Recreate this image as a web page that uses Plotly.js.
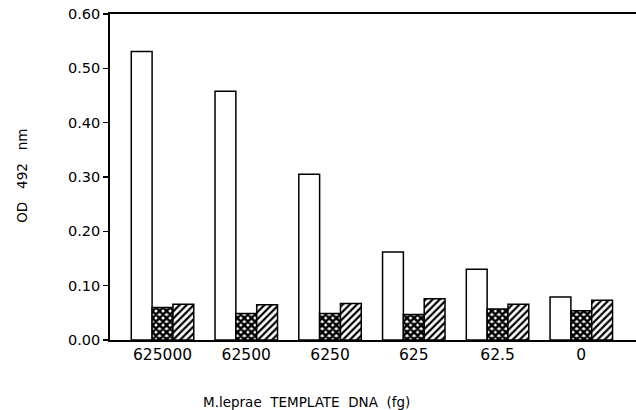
<!DOCTYPE html>
<html>
<head>
<meta charset="utf-8">
<script src="https://cdn.plot.ly/plotly-3.0.1.min.js"></script>
<style>html,body{margin:0;padding:0;background:#fff;}#chart{width:636px;height:410px;}</style>
</head>
<body>
<div id="chart"></div>
<script>
const categories = ["625000", "62500", "6250", "625", "62.5", "0"];
const openValues = [0.531, 0.458, 0.305, 0.162, 0.130, 0.079];
const crossValues = [0.060, 0.049, 0.049, 0.047, 0.057, 0.054];
const hatchValues = [0.066, 0.065, 0.067, 0.076, 0.066, 0.073];
const yTickVals = [0, 0.1, 0.2, 0.3, 0.4, 0.5, 0.6];
const yTickText = ["0.00", "0.10", "0.20", "0.30", "0.40", "0.50", "0.60"];
const xTitle = "M.leprae\u00A0\u00A0TEMPLATE\u00A0\u00A0DNA\u00A0\u00A0(fg)";
const yTitle = "OD\u00A0\u00A0\u00A0492\u00A0\u00A0\u00A0nm";

const outline = {color: "#000", width: 1.5};
const traces = [
  {type: "bar", x: categories, y: openValues, name: "open",
   marker: {color: "#fff", line: outline}},
  {type: "bar", x: categories, y: crossValues, name: "cross",
   marker: {color: "#fff", line: outline,
            pattern: {shape: "x", fgcolor: "#000", bgcolor: "#fff", size: 5, solidity: 0.75}}},
  {type: "bar", x: categories, y: hatchValues, name: "hatch",
   marker: {color: "#fff", line: outline,
            pattern: {shape: "/", fgcolor: "#000", bgcolor: "#fff", size: 5, solidity: 0.45}}}
];

const font = "DejaVu Sans, sans-serif";
const layout = {
  width: 636, height: 410,
  margin: {l: 110, r: 0, t: 14, b: 70, pad: 0},
  paper_bgcolor: "#fff", plot_bgcolor: "#fff",
  showlegend: false,
  barmode: "group", bargap: 0.254, bargroupgap: 0,
  font: {family: font, color: "#000"},
  xaxis: {
    type: "category", range: [-0.627, 5.653],
    showline: true, linecolor: "#000", linewidth: 1.8, mirror: true,
    ticks: "", showgrid: false, zeroline: false,
    tickfont: {family: font, size: 15.5, color: "#000"},
    fixedrange: true
  },
  yaxis: {
    range: [0, 0.6],
    tickvals: yTickVals, ticktext: yTickText,
    showline: true, linecolor: "#000", linewidth: 1.8, mirror: false,
    ticks: "outside", ticklen: 5, tickwidth: 1.5, tickcolor: "#000",
    showgrid: false, zeroline: false,
    tickfont: {family: font, size: 14.5, color: "#000"},
    fixedrange: true
  },
  annotations: [
    {text: xTitle, xref: "paper", yref: "paper", x: 0.3745, y: -0.19,
     xanchor: "center", yanchor: "middle", showarrow: false,
     font: {family: font, size: 13.5, color: "#000"}},
    {text: yTitle, xref: "paper", yref: "paper", x: -0.167, y: 0.504,
     xanchor: "center", yanchor: "middle", showarrow: false, textangle: -90,
     font: {family: font, size: 13.5, color: "#000"}}
  ]
};

Plotly.newPlot("chart", traces, layout, {displayModeBar: false, staticPlot: true});
</script>
</body>
</html>
